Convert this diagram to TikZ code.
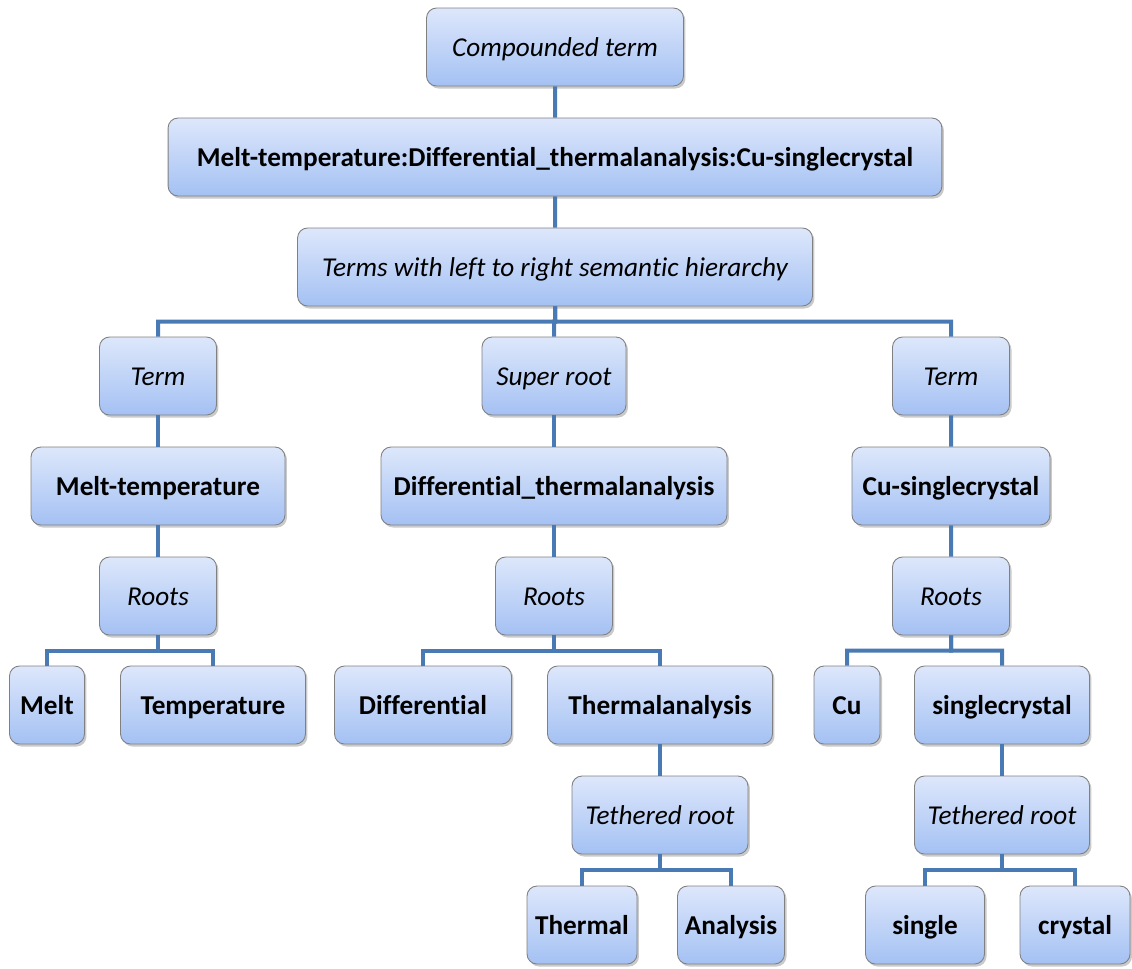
\documentclass[tikz,border=0pt]{standalone}
\usepackage{fontspec}
\setmainfont{Carlito}[Ligatures=CommonOff]
\usetikzlibrary{shadows,calc}
\definecolor{boxtop}{RGB}{221,231,251}
\definecolor{boxbot}{RGB}{164,193,243}
\definecolor{boxline}{RGB}{128,128,128}
\definecolor{linkblue}{RGB}{74,122,180}

\begin{document}
\begin{tikzpicture}[
  x=0.02cm, y=-0.02cm,
  box/.style={draw=boxline, line width=0.5pt, rounded corners=0.2cm,
    top color=boxtop, bottom color=boxbot, minimum height=1.56cm,
    inner sep=0pt, text height=12pt, text depth=1pt,
    font=\fontsize{15.5}{18}\selectfont,
    drop shadow={shadow xshift=0.04cm, shadow yshift=-0.05cm, opacity=0.35, fill=black!60}},
  ibox/.style={box, font=\fontsize{15.5}{18}\selectfont\itshape},
  bbox/.style={box, font=\fontsize{15.5}{18}\selectfont\bfseries},
  link/.style={draw=linkblue, line width=0.08cm},
]
\useasboundingbox (0,0) rectangle (1132,968);

% top of the tree
\node[ibox, minimum width=5.14cm]  (cmp)   at (555,47)  {Compounded term};
\node[bbox, minimum width=15.48cm] (full)  at (555,157) {Melt-temperature:Differential\_thermalanalysis:Cu-singlecrystal};
\node[ibox, minimum width=10.3cm]  (hier)  at (555,267) {Terms with left to right semantic hierarchy};

% second level
\node[ibox, minimum width=2.34cm] (termL) at (158,376) {Term};
\node[ibox, minimum width=2.88cm] (super) at (554,376) {Super root};
\node[ibox, minimum width=2.34cm] (termR) at (951,376) {Term};

\node[bbox, minimum width=5.08cm] (melttemp) at (158,486) {Melt-temperature};
\node[bbox, minimum width=6.92cm] (diffta)   at (554,486) {Differential\_thermalanalysis};
\node[bbox, minimum width=3.96cm] (cusc)     at (951,486) {Cu-singlecrystal};

\node[ibox, minimum width=2.34cm] (rootsL) at (158,596) {Roots};
\node[ibox, minimum width=2.34cm] (rootsM) at (554,596) {Roots};
\node[ibox, minimum width=2.34cm] (rootsR) at (951,596) {Roots};

% roots
\node[bbox, minimum width=1.5cm]  (melt)   at (47,705)   {Melt};
\node[bbox, minimum width=3.7cm]  (temp)   at (213,705)  {Temperature};
\node[bbox, minimum width=3.54cm] (diff)   at (423,705)  {Differential};
\node[bbox, minimum width=4.5cm]  (thana)  at (660,705)  {Thermalanalysis};
\node[bbox, minimum width=1.32cm] (cu)     at (847,705)  {Cu};
\node[bbox, minimum width=3.5cm]  (sgcr)   at (1002,705) {singlecrystal};

% tethered roots
\node[ibox, minimum width=3.52cm] (tethM) at (660,815)  {Tethered root};
\node[ibox, minimum width=3.5cm]  (tethR) at (1002,815) {Tethered root};

\node[bbox, minimum width=2.2cm]  (thermal)  at (582,925)  {Thermal};
\node[bbox, minimum width=2.14cm] (analysis) at (731,925)  {Analysis};
\node[bbox, minimum width=2.38cm] (single)   at (925,925)  {single};
\node[bbox, minimum width=2.2cm]  (crystal)  at (1075,925) {crystal};

% connectors
\foreach \p/\c in {cmp/full, full/hier, hier/termL, hier/super, hier/termR,
  termL/melttemp, super/diffta, termR/cusc,
  melttemp/rootsL, diffta/rootsM, cusc/rootsR,
  rootsL/melt, rootsL/temp, rootsM/diff, rootsM/thana, rootsR/cu, rootsR/sgcr,
  thana/tethM, sgcr/tethR,
  tethM/thermal, tethM/analysis, tethR/single, tethR/crystal}{
  \draw[link] (\p.south) -- ($(\p.south)!0.5!(\p.south|-\c.north)$) -| (\c.north);
}
\end{tikzpicture}
\end{document}
